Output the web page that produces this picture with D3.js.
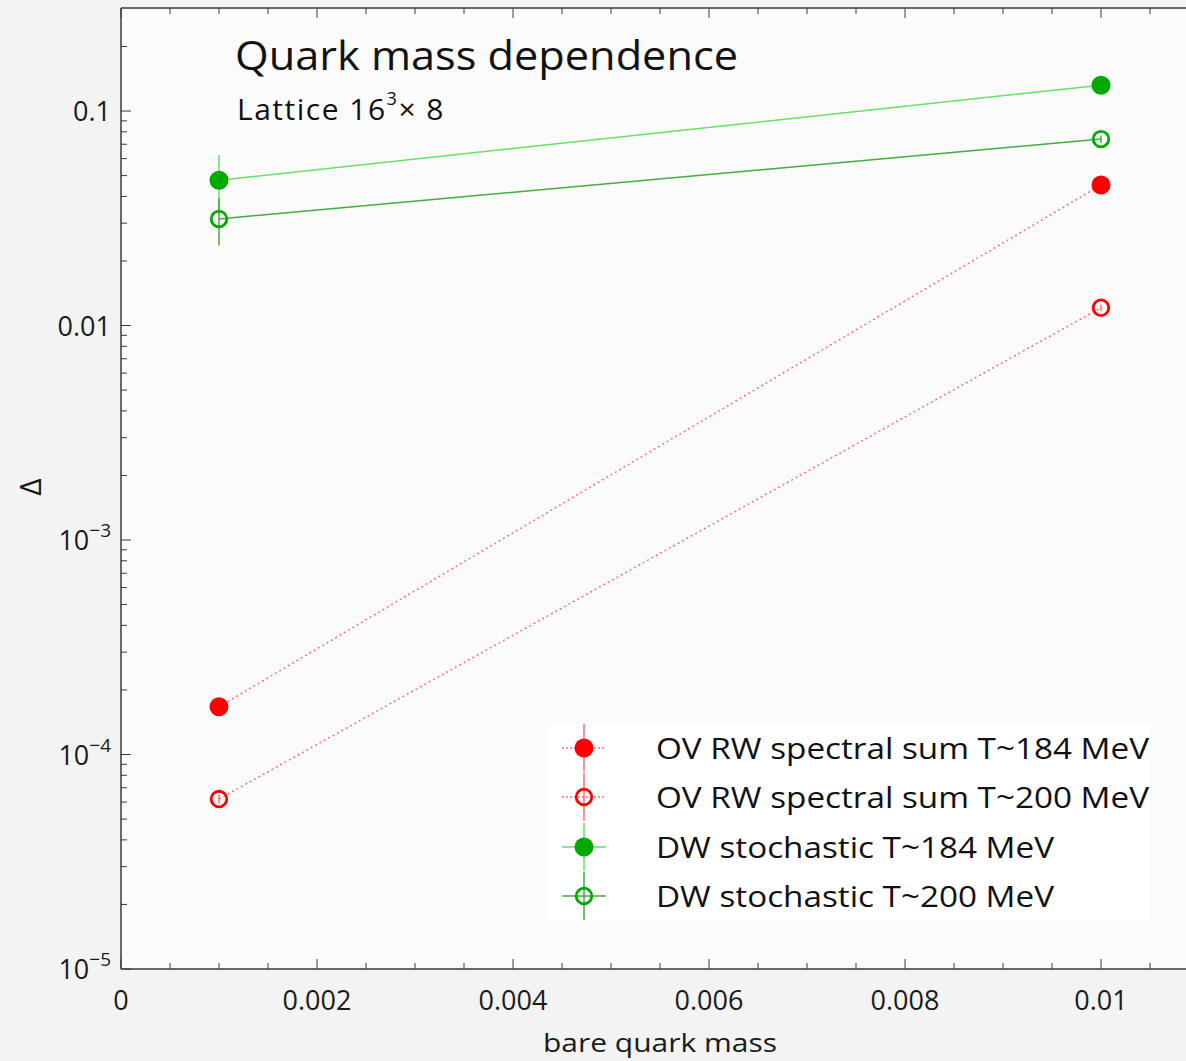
<!DOCTYPE html>
<html><head><meta charset="utf-8">
<script src="https://cdn.jsdelivr.net/npm/d3@7"></script>
<style>body{margin:0;background:#f3f3f3;} svg{display:block;}</style>
</head><body>
<script>
// ---- data ----
const masses = [0.001, 0.01];
const seriesNames = ["OV RW spectral sum T~184 MeV", "OV RW spectral sum T~200 MeV", "DW stochastic T~184 MeV", "DW stochastic T~200 MeV"];
const ovRW184 = [1.67e-4, 0.0452];
const ovRW184Err = [4e-6, 0.0008];
const ovRW200 = [6.2e-5, 0.0121];
const ovRW200Err = [3e-6, 0.0004];
const dw184 = [0.0476, 0.132];
const dw184Err = [0.0148, 0.003];
const dw200 = [0.0314, 0.074];
const dw200Err = [0.0078, 0.003];
const xTicks = [0, 0.002, 0.004, 0.006, 0.008, 0.01];
const yTicks = [1e-5, 1e-4, 1e-3, 0.01, 0.1];
const yTickLabels = [["10","−5"], ["10","−4"], ["10","−3"], ["0.01",""], ["0.1",""]];

const series = [
  {name: seriesNames[0], vals: ovRW184, err: ovRW184Err, color: "#ff0000", line: "#ff7070", filled: true, dash: "2,3"},
  {name: seriesNames[1], vals: ovRW200, err: ovRW200Err, color: "#ff0000", line: "#ff7070", filled: false, dash: "2,3"},
  {name: seriesNames[2], vals: dw184, err: dw184Err, color: "#00aa00", line: "#66e066", filled: true, dash: null},
  {name: seriesNames[3], vals: dw200, err: dw200Err, color: "#00aa00", line: "#44aa44", filled: false, dash: null}
];

const W = 1186, H = 1061;
const svg = d3.select("body").append("svg").attr("width", W).attr("height", H);
const FONT = "'Open Sans', 'DejaVu Sans', sans-serif";

// background
svg.append("rect").attr("width", W).attr("height", H).attr("fill", "#f3f3f3");
svg.append("rect").attr("x", 121).attr("y", 8).attr("width", W - 121).attr("height", 961).attr("fill", "#fbfbfb");

const x = d3.scaleLinear().domain([0, 0.011]).range([121, 1199]);
const y = d3.scaleLog().domain([1e-5, 0.3]).range([969, 8.7]);

// frame
const axisColor = "#3a3a3a";
svg.append("line").attr("x1", 121).attr("x2", W).attr("y1", 969).attr("y2", 969).attr("stroke", axisColor).attr("stroke-width", 1.5);
svg.append("line").attr("x1", 121).attr("x2", W).attr("y1", 8).attr("y2", 8).attr("stroke", axisColor).attr("stroke-width", 1.5);
svg.append("line").attr("x1", 121).attr("x2", 121).attr("y1", 8).attr("y2", 969).attr("stroke", axisColor).attr("stroke-width", 1.5);

// x ticks (bottom and top)
const xMinor = d3.range(0, 0.01101, 0.0005);
xMinor.forEach((v, i) => {
  const major = i % 4 === 0;
  const len = major ? 10 : 6;
  const px = x(v);
  svg.append("line").attr("x1", px).attr("x2", px).attr("y1", 969).attr("y2", 969 - len).attr("stroke", axisColor).attr("stroke-width", 1);
  svg.append("line").attr("x1", px).attr("x2", px).attr("y1", 8).attr("y2", 8 + len).attr("stroke", axisColor).attr("stroke-width", 1);
});
svg.selectAll(".xl").data(xTicks).enter().append("text")
  .attr("x", d => x(d)).attr("y", 1010).attr("text-anchor", "middle")
  .attr("font-family", FONT).attr("font-size", 27).attr("fill", "#1a1a1a")
  .text(d => d === 0 ? "0" : d3.format("")(d));

// y ticks
const yMinor = [];
for (let e = -5; e <= -1; e++) for (let m = 1; m <= 9; m++) { const v = m * Math.pow(10, e); if (v <= 0.3) yMinor.push([v, m === 1]); }
yMinor.forEach(([v, major]) => {
  const py = y(v);
  svg.append("line").attr("x1", 121).attr("x2", 121 + (major ? 10 : 6)).attr("y1", py).attr("y2", py).attr("stroke", axisColor).attr("stroke-width", 1);
});
yTicks.forEach((v, i) => {
  const [base, sup] = yTickLabels[i];
  const t = svg.append("text").attr("x", 111).attr("y", y(v) + 10).attr("text-anchor", "end")
    .attr("font-family", FONT).attr("font-size", 27).attr("fill", "#1a1a1a");
  t.append("tspan").text(base);
  if (sup) t.append("tspan").attr("dy", -13).attr("font-size", 19).text(sup);
});

// axis labels
svg.append("text").attr("x", 660).attr("y", 1052).attr("text-anchor", "middle")
  .attr("font-family", FONT).attr("font-size", 26).attr("fill", "#1a1a1a")
  .attr("textLength", 234).attr("lengthAdjust", "spacingAndGlyphs").text("bare quark mass");
svg.append("text").attr("transform", "translate(41,487) rotate(-90)").attr("text-anchor", "middle")
  .attr("font-family", FONT).attr("font-size", 30).attr("fill", "#1a1a1a").text("Δ");

// title
svg.append("text").attr("x", 235).attr("y", 70).attr("font-family", FONT).attr("font-size", 40).attr("fill", "#111")
  .attr("textLength", 503).attr("lengthAdjust", "spacingAndGlyphs").text("Quark mass dependence");
const sub = svg.append("text").attr("x", 237).attr("y", 120).attr("font-family", FONT).attr("font-size", 30)
  .attr("letter-spacing", 1.5).attr("fill", "#111");
sub.append("tspan").text("Lattice 16");
sub.append("tspan").attr("dy", -15).attr("font-size", 18).text("3");
sub.append("tspan").attr("dy", 15).text("× 8");

// lines
const lineGen = d3.line().x((d, i) => x(masses[i])).y(d => y(d));
series.forEach(s => {
  svg.append("path").attr("d", lineGen(s.vals)).attr("fill", "none")
    .attr("stroke", s.line).attr("stroke-width", 1.5).attr("stroke-dasharray", s.dash);
});

// error bars and markers
function marker(g, cx, cy, s) {
  if (s.filled) g.append("circle").attr("cx", cx).attr("cy", cy).attr("r", 9.5).attr("fill", s.color);
  else g.append("circle").attr("cx", cx).attr("cy", cy).attr("r", 7.8).attr("fill", "none").attr("stroke", s.color).attr("stroke-width", 2.8);
}
series.forEach(s => {
  s.vals.forEach((v, i) => {
    const px = x(masses[i]);
    svg.append("line").attr("x1", px).attr("x2", px)
      .attr("y1", y(v + s.err[i])).attr("y2", y(v - s.err[i]))
      .attr("stroke", s.line).attr("stroke-width", 1.5);
  });
});
series.forEach(s => {
  s.vals.forEach((v, i) => marker(svg, x(masses[i]), y(v), s));
});

// legend
const lg = svg.append("g");
lg.append("rect").attr("x", 549).attr("y", 724).attr("width", 601).attr("height", 196).attr("fill", "#ffffff");
const legendRows = [748, 797, 847, 896];
const legendTextLen = [493, 493, 398, 398];
series.forEach((s, i) => {
  const cy = legendRows[i], cx = 584;
  lg.append("line").attr("x1", cx - 22).attr("x2", cx + 22).attr("y1", cy).attr("y2", cy)
    .attr("stroke", s.line).attr("stroke-width", 1.5).attr("stroke-dasharray", s.dash ? "2,2" : null);
  lg.append("line").attr("x1", cx).attr("x2", cx).attr("y1", cy - 24).attr("y2", cy + 24)
    .attr("stroke", s.line).attr("stroke-width", 1.5);
  marker(lg, cx, cy, s);
  lg.append("text").attr("x", 656).attr("y", cy + 11).attr("font-family", FONT).attr("font-size", 30).attr("fill", "#111")
    .attr("textLength", legendTextLen[i]).attr("lengthAdjust", "spacingAndGlyphs").text(s.name);
});
</script>
</body></html>
